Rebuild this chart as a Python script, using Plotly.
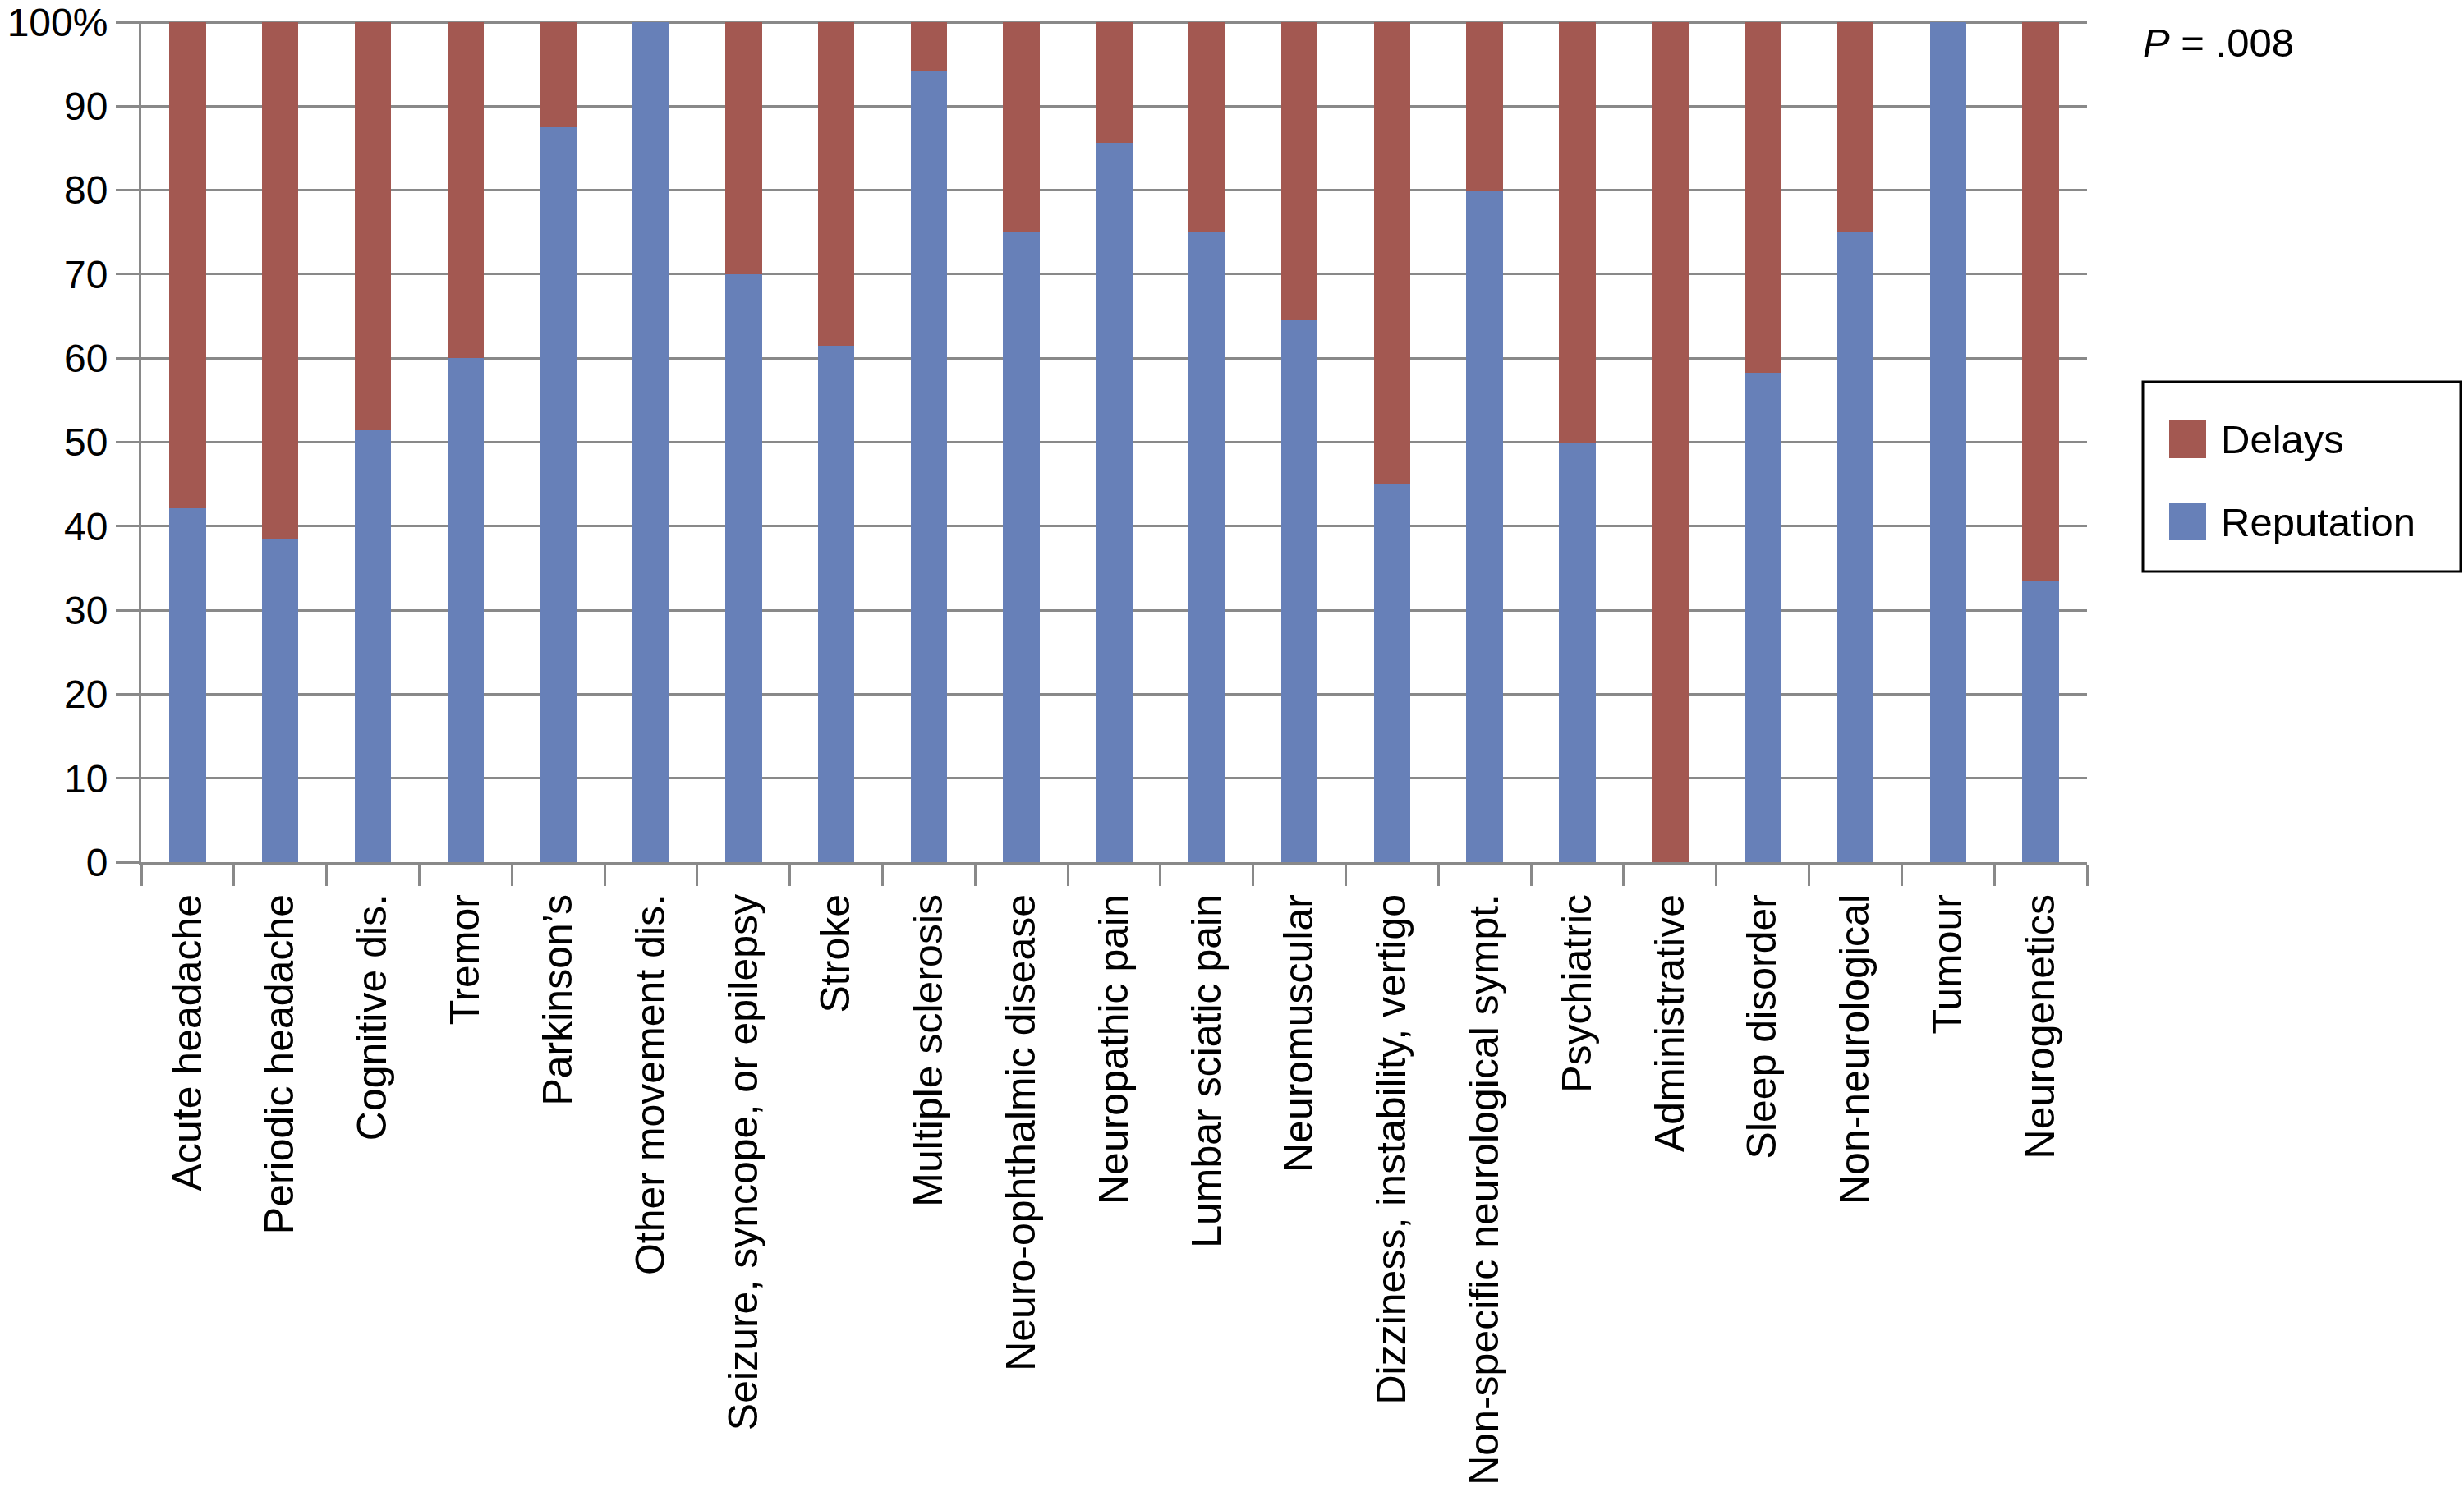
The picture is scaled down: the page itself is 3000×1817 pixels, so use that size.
import plotly.graph_objects as go

categories = ["Acute headache", "Periodic headache", "Cognitive dis.", "Tremor", "Parkinson\u2019s",
              "Other movement dis.", "Seizure, syncope, or epilepsy", "Stroke", "Multiple sclerosis",
              "Neuro-ophthalmic disease", "Neuropathic pain", "Lumbar sciatic pain", "Neuromuscular",
              "Dizziness, instability, vertigo", "Non-specific neurological sympt.", "Psychiatric",
              "Administrative", "Sleep disorder", "Non-neurological", "Tumour", "Neurogenetics"]
reputation = [42.1, 38.5, 51.4, 60.0, 87.5, 100.0, 70.0, 61.5, 94.2, 75.0, 85.6, 75.0, 64.5,
              45.0, 80.0, 50.0, 0.0, 58.3, 75.0, 100.0, 33.4]
delays = [round(100 - r, 1) for r in reputation]
ytick_vals = [0, 10, 20, 30, 40, 50, 60, 70, 80, 90, 100]
ytick_text = ["0", "10", "20", "30", "40", "50", "60", "70", "80", "90", "100%"]

BLUE = "#6780B8"
RED = "#A35851"
GRID = "#898989"
FONT = "Liberation Sans, Arial, Helvetica, sans-serif"

# target plot area in page pixels (page body margin is removed below)
X0, X1, Y0, Y1 = 172, 2541, 25, 1050
W, H = 3000, 1817
PW, PH = X1 - X0, Y1 - Y0
L, T = X0, Y0
R, B = W - L - PW, H - T - PH


def px(x):
    return (x - X0) / PW


def py(y):
    return (Y1 - y) / PH


fig = go.Figure()
fig.add_trace(go.Bar(x=categories, y=reputation, name="Reputation", marker_color=BLUE,
                     marker_line_width=0, showlegend=False))
fig.add_trace(go.Bar(x=categories, y=delays, name="Delays", marker_color=RED,
                     marker_line_width=0, showlegend=False))

fig.update_layout(
    width=W, height=H,
    margin=dict(l=L, r=R, t=T, b=B, autoexpand=False),
    barmode="stack", bargap=0.605,
    plot_bgcolor="white", paper_bgcolor="white",
    font=dict(family=FONT, size=49, color="black"),
)
fig.update_xaxes(
    type="category", tickangle=-90, ticks="outside", tickson="boundaries",
    ticklen=26, tickwidth=3, tickcolor=GRID, showline=True, linecolor=GRID, linewidth=3,
    showgrid=False, automargin=False, ticklabelstandoff=16,
    tickfont=dict(family=FONT, size=50, color="black"),
)
fig.update_yaxes(
    range=[0, 100.2], tickvals=ytick_vals, ticktext=ytick_text, ticks="outside",
    ticklen=28, tickwidth=3, tickcolor=GRID, showline=True, linecolor=GRID, linewidth=3,
    showgrid=True, gridcolor=GRID, gridwidth=3, zeroline=False, automargin=False,
    ticklabelstandoff=0, ticklabeloverflow="allow",
    tickfont=dict(family=FONT, size=48, color="black"),
)

# P value
fig.add_annotation(xref="paper", yref="paper", x=px(2607), y=py(52), xanchor="left", yanchor="middle",
                   text="<i>P</i> = .008", showarrow=False, font=dict(family=FONT, size=49, color="black"))

# Legend (boxed)
fig.add_shape(type="rect", xref="paper", yref="paper", x0=px(2609), x1=px(2996), y0=py(465), y1=py(696),
              line=dict(color="black", width=3), fillcolor="white", layer="above")
legend_items = [("Delays", RED, 512, 558), ("Reputation", BLUE, 613, 658)]
for name, col, ytop, ybot in legend_items:
    fig.add_shape(type="rect", xref="paper", yref="paper", x0=px(2641), x1=px(2686), y0=py(ytop), y1=py(ybot),
                  line=dict(width=0), fillcolor=col, layer="above")
    fig.add_annotation(xref="paper", yref="paper", x=px(2702), y=py((ytop + ybot) / 2), xanchor="left",
                       yanchor="middle", text=name, showarrow=False,
                       font=dict(family=FONT, size=49, color="black"))

fig.write_html("out.html", config={"displayModeBar": False},
               post_script="document.body.style.margin='0px';document.body.style.overflow='hidden';")
